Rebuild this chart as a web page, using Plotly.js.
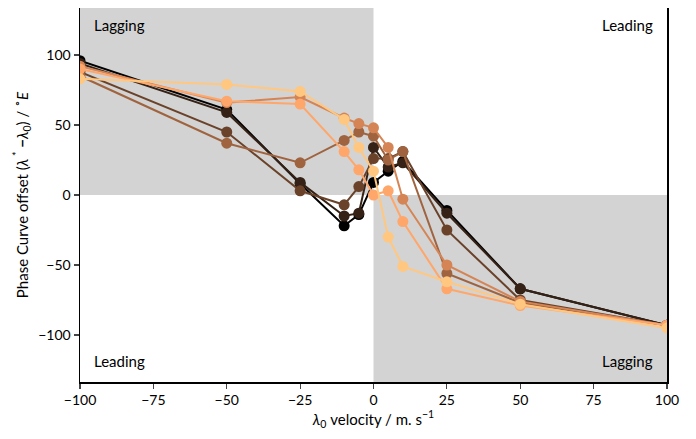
<!DOCTYPE html>
<html>
<head>
<meta charset="utf-8">
<script src="https://cdn.plot.ly/plotly-3.0.1.min.js"></script>
<style>html,body{margin:0;padding:0;background:#fff;}#chart{width:696px;height:439px;}</style>
</head>
<body>
<div id="chart"></div>
<script>
// velocities (x)
const velocities = [-100, -50, -25, -10, -5, 0, 5, 10, 25, 50, 100];
// phase curve offsets for each run (y)
const series0 = [96, 61, 8, -22, -14, 9, 17, 24, -11, -67, -93];
const series1 = [94, 59, 9, -15, -13, 34, 20, 23, -13, -67, -93];
const series2 = [88, 45, 3, -7, 6, 26, 26, 31, -25, -75, -93];
const series3 = [85, 37, 23, 39, 45, 42, 25, 31, -56, -77, -93];
const series4 = [92, 66, 70, 55, 51, 48, 34, -3, -50, -76, -93];
const series5 = [90, 67, 65, 31, 18, 0, 3, -19, -67, -79, -93];
const series6 = [83, 79, 74, 54, 34, 17, -30, -51, -62, -78, -95];
const allSeries = [series0, series1, series2, series3, series4, series5, series6];
const colors = ['#000000', '#352115', '#6a422a', '#9f643f', '#d58555', '#ffa66a', '#ffc77f'];

const traces = allSeries.map((ys, i) => ({
  x: velocities, y: ys, type: 'scatter', mode: 'lines+markers',
  line: {color: colors[i], width: 2},
  marker: {color: colors[i], size: 11},
  showlegend: false, hoverinfo: 'skip', cliponaxis: true
}));

const yr = [-133.6, 133.6];
const layout = {
  width: 696, height: 439,
  margin: {l: 80, r: 29, t: 8, b: 57},
  paper_bgcolor: '#fff', plot_bgcolor: '#fff',
  font: {family: 'Lato, "Open Sans", sans-serif', size: 14, color: '#000'},
  xaxis: {
    range: [-100, 100], tickvals: [-100, -75, -50, -25, 0, 25, 50, 75, 100],
    ticks: 'outside', ticklen: 5, tickwidth: 1.2, showgrid: false, zeroline: false,
    showline: true, linecolor: '#000', linewidth: 1.5, mirror: false,
    tickfont: {size: 14},
    title: {text: '<i>λ</i><sub>0</sub> velocity / m. s<sup>−1</sup>', standoff: 6, font: {size: 15}}
  },
  yaxis: {
    range: yr, tickvals: [-100, -50, 0, 50, 100],
    ticks: 'outside', ticklen: 5, tickwidth: 1.2, showgrid: false, zeroline: false,
    showline: true, linecolor: '#000', linewidth: 1.5, mirror: true,
    tickfont: {size: 14},
    title: {text: 'Phase Curve offset (<i>λ</i><sup> *</sup> <b>−</b><i>λ</i><sub>0</sub>) / <sup>∘</sup><i>E</i>', standoff: 6, font: {size: 15}}
  },
  shapes: [
    {type: 'rect', xref: 'x', yref: 'y', x0: -100, x1: 0, y0: 0, y1: yr[1], fillcolor: '#d3d3d3', line: {width: 0}, layer: 'below'},
    {type: 'rect', xref: 'x', yref: 'y', x0: 0, x1: 100, y0: yr[0], y1: 0, fillcolor: '#d3d3d3', line: {width: 0}, layer: 'below'}
  ],
  annotations: [
    {xref: 'paper', yref: 'paper', x: 0.02, y: 0.955, text: 'Lagging', showarrow: false, xanchor: 'left', yanchor: 'middle', font: {size: 15}},
    {xref: 'paper', yref: 'paper', x: 0.98, y: 0.955, text: 'Leading', showarrow: false, xanchor: 'right', yanchor: 'middle', font: {size: 15}},
    {xref: 'paper', yref: 'paper', x: 0.02, y: 0.055, text: 'Leading', showarrow: false, xanchor: 'left', yanchor: 'middle', font: {size: 15}},
    {xref: 'paper', yref: 'paper', x: 0.98, y: 0.055, text: 'Lagging', showarrow: false, xanchor: 'right', yanchor: 'middle', font: {size: 15}}
  ]
};
Plotly.newPlot('chart', traces, layout, {displayModeBar: false, staticPlot: true});
</script>
</body>
</html>
